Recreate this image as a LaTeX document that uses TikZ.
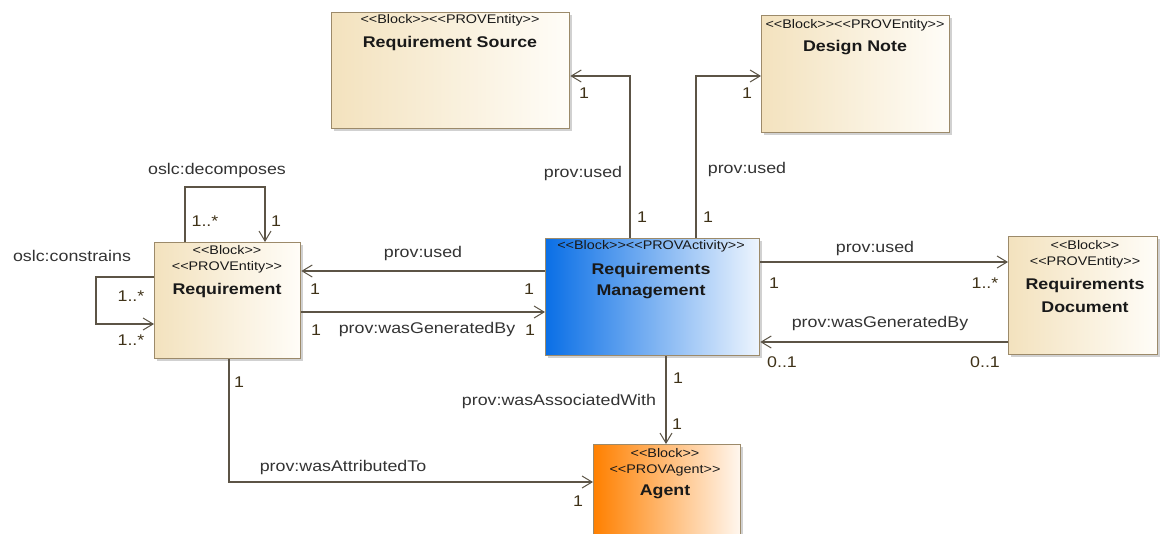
\documentclass[tikz,border=0pt]{standalone}
\usepackage{fontspec}
\usetikzlibrary{arrows.meta,shadows}
\newfontfamily\lblfont{Liberation Sans}[FakeStretch=1.15, Ligatures=TeXOff]

\definecolor{tanL}{HTML}{F3E2BE}
\definecolor{tanR}{HTML}{FFFDF8}
\definecolor{blueL}{HTML}{0A6FE6}
\definecolor{blueR}{HTML}{EEF5FE}
\definecolor{orL}{HTML}{FF8000}
\definecolor{orR}{HTML}{FFF7EF}
\definecolor{boxline}{HTML}{9C8A6A}
\definecolor{connline}{HTML}{5C5446}
\definecolor{lblcol}{HTML}{333333}
\definecolor{multcol}{HTML}{3F3218}

\tikzset{
  box/.style={draw=boxline, line width=1.3pt, inner sep=0pt, anchor=north west,
    drop shadow={shadow xshift=2.5pt, shadow yshift=-2.5pt, fill=black!45, opacity=0.4}},
  tanbox/.style={box, left color=tanL, right color=tanR},
  bluebox/.style={box, left color=blueL, right color=blueR},
  orangebox/.style={box, left color=orL, right color=orR},
  conn/.style={draw=connline, line width=1.2pt,
    -{Straight Barb[length=10pt, width=12pt, line width=1pt]}},
  lbl/.style={font=\lblfont\fontsize{15.5}{18}\selectfont, text=lblcol, inner sep=0pt},
  mult/.style={lbl, text=multcol},
  stereo/.style={font=\lblfont\fontsize{12.5}{14}\selectfont, text=black!90, inner sep=0pt},
  title/.style={font=\lblfont\bfseries\fontsize{15.5}{18}\selectfont, text=black!90, inner sep=0pt},
}

\begin{document}
\begin{tikzpicture}[x=1pt, y=-1pt]
\useasboundingbox (0,0) rectangle (1162,533);
\clip (0,0) rectangle (1162,533);

% blocks
\node[tanbox, minimum width=238pt, minimum height=116pt] (rs) at (331,12) {};
\node[tanbox, minimum width=188pt, minimum height=117pt] (dn) at (761,15) {};
\node[tanbox, minimum width=146pt, minimum height=116pt] (req) at (154,242) {};
\node[bluebox, minimum width=214pt, minimum height=117pt] (rm) at (545,238) {};
\node[tanbox, minimum width=149pt, minimum height=118pt] (rd) at (1008,236) {};
\node[orangebox, minimum width=147pt, minimum height=110pt] (ag) at (593,444) {};

% block texts
\node[stereo] (rsS) at (450,20) {<<Block>><<PROVEntity>>};
\node[title]  (rsT) at (450,43) {Requirement Source};
\node[stereo] (dnS) at (855,25) {<<Block>><<PROVEntity>>};
\node[title]  (dnT) at (855,48) {Design Note};
\node[stereo] (reqS1) at (227,250) {<<Block>>};
\node[stereo] (reqS2) at (227,267) {<<PROVEntity>>};
\node[title]  (reqT) at (227,290) {Requirement};
\node[stereo] (rmS) at (651,246) {<<Block>><<PROVActivity>>};
\node[title]  (rmT1) at (651,270) {Requirements};
\node[title]  (rmT2) at (651,292) {Management};
\node[stereo] (rdS1) at (1085,245) {<<Block>>};
\node[stereo] (rdS2) at (1085,262) {<<PROVEntity>>};
\node[title]  (rdT1) at (1085,285) {Requirements};
\node[title]  (rdT2) at (1085,307) {Document};
\node[stereo] (agS1) at (665,453) {<<Block>>};
\node[stereo] (agS2) at (665,470) {<<PROVAgent>>};
\node[title]  (agT) at (665,492) {Agent};

% connectors
\draw[conn] (630,0 |- rm.north) |- (rs.east |- 0,76);
\draw[conn] (696,0 |- rm.north) |- (dn.west |- 0,76);
\draw[conn] (185,0 |- req.north) -- (185,187) -| (265,0 |- req.north);
\draw[conn] (req.west |- 0,277) -| (96,324) -- (req.west |- 0,324);
\draw[conn] (rm.west |- 0,271) -- (req.east |- 0,271);
\draw[conn] (req.east |- 0,312) -- (rm.west |- 0,312);
\draw[conn] (rm.east |- 0,262) -- (rd.west |- 0,262);
\draw[conn] (rd.west |- 0,342) -- (rm.east |- 0,342);
\draw[conn] (666,0 |- rm.south) -- (666,0 |- ag.north);
\draw[conn] (229,0 |- req.south) |- (ag.west |- 0,482);

% connector labels and multiplicities
\node[mult] (m1a) at (584,93) {1};
\node[lbl]  (l1)  at (583,173) {prov:used};
\node[mult] (m1b) at (642,217) {1};

\node[mult] (m2a) at (747,93) {1};
\node[lbl]  (l2)  at (747,169) {prov:used};
\node[mult] (m2b) at (708,217) {1};

\node[lbl]  (l3)  at (217,170) {oslc:decomposes};
\node[mult] (m3a) at (205,221) {1..*};
\node[mult] (m3b) at (276,221) {1};

\node[lbl]  (l4)  at (72,256) {oslc:constrains};
\node[mult] (m4a) at (131,296) {1..*};
\node[mult] (m4b) at (131,340) {1..*};

\node[lbl]  (l5)  at (423,253) {prov:used};
\node[mult] (m5a) at (315,289) {1};
\node[mult] (m5b) at (529,289) {1};

\node[lbl]  (l6)  at (427,329) {prov:wasGeneratedBy};
\node[mult] (m6a) at (316,330) {1};
\node[mult] (m6b) at (530,330) {1};

\node[lbl]  (l7)  at (875,248) {prov:used};
\node[mult] (m7a) at (774,283) {1};
\node[mult] (m7b) at (985,283) {1..*};

\node[lbl]  (l8)  at (880,323) {prov:wasGeneratedBy};
\node[mult] (m8a) at (782,362) {0..1};
\node[mult] (m8b) at (985,362) {0..1};

\node[mult] (m9a) at (678,378) {1};
\node[lbl]  (l9)  at (559,401) {prov:wasAssociatedWith};
\node[mult] (m9b) at (677,424) {1};

\node[mult] (m10a) at (239,382) {1};
\node[lbl]  (l10) at (343,467) {prov:wasAttributedTo};
\node[mult] (m10b) at (578,501) {1};
\end{tikzpicture}
\end{document}
